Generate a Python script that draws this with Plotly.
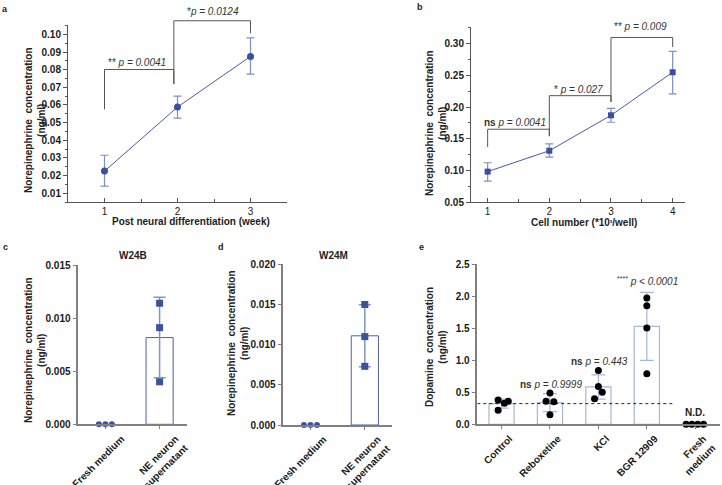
import numpy as np
import plotly.graph_objects as go

W, H = 722, 485
FONT = "Arial"

# ---------------- data ----------------
# panel a
weeks = [1, 2, 3]
a_mean = [0.0225, 0.0588, 0.0875]
a_hi = [0.0315, 0.0650, 0.0980]
a_lo = [0.0140, 0.0525, 0.0775]
a_ticks = [0.01, 0.02, 0.03, 0.04, 0.05, 0.06, 0.07, 0.08, 0.09, 0.10]

# panel b
cells = [1, 2, 3, 4]
b_mean = [0.098, 0.131, 0.187, 0.255]
b_hi = [0.112, 0.142, 0.198, 0.288]
b_lo = [0.083, 0.121, 0.176, 0.221]
b_ticks = [0.05, 0.10, 0.15, 0.20, 0.25, 0.30]

# panels c / d
cd_labels = ["Fresh medium", "NE neuron<br>supernatant"]
c_fresh = [0.0, 0.0, 0.0]
c_ne = [0.0114, 0.0091, 0.0040]
d_fresh = [0.0, 0.0, 0.0]
d_ne = [0.0150, 0.0110, 0.0073]
c_ticks = [0.000, 0.005, 0.010, 0.015]
d_ticks = [0.000, 0.005, 0.010, 0.015, 0.020]

# panel e
e_labels = ["Control", "Reboxetine", "KCl", "BGR 12909", "Fresh<br>medium"]
e_values = [
    [0.38, 0.22, 0.33, 0.36],
    [0.49, 0.36, 0.35, 0.15],
    [0.84, 0.59, 0.50, 0.40],
    [1.97, 1.85, 1.50, 0.79],
    [0.0, 0.0, 0.0, 0.0],
]
e_ticks = [0.0, 0.5, 1.0, 1.5, 2.0, 2.5]
# horizontal scatter of the dots inside each group (category units)
e_jitter = [
    [-0.07, -0.07, 0.06, 0.14],
    [0.0, -0.08, 0.08, 0.0],
    [0.0, 0.0, 0.08, -0.08],
    [0.0, 0.0, 0.0, 0.0],
    [-0.19, -0.07, 0.05, 0.17],
]
cd_jitter = [-0.12, 0.0, 0.12]

# ---------------- layout geometry (pixels) ----------------
panels = {
    "a": dict(x=(68, 287), y=(25, 202), xr=[0.5, 3.5], yr=[0.005, 0.1053]),
    "b": dict(x=(471, 685), y=(26.7, 202), xr=[0.73, 4.2], yr=[0.05, 0.327]),
    "c": dict(x=(78.3, 186.7), y=(265, 424.3), xr=[-0.5, 1.5], yr=[0, 0.015]),
    "d": dict(x=(283.3, 392), y=(264.3, 425), xr=[-0.5, 1.5], yr=[0, 0.020]),
    "e": dict(x=(477.3, 719.5), y=(264, 424.3), xr=[-0.5, 4.5], yr=[0, 2.5]),
}


def dom(p):
    (l, r), (t, b) = p["x"], p["y"]
    return [l / W, r / W], [1 - b / H, 1 - t / H]


def to_paper(key, xv, yv):
    p = panels[key]
    (l, r), (t, b) = p["x"], p["y"]
    x0, x1 = p["xr"]
    y0, y1 = p["yr"]
    xp = l + (xv - x0) / (x1 - x0) * (r - l)
    yp = b - (yv - y0) / (y1 - y0) * (b - t)
    return xp / W, 1 - yp / H


def pp(x, y):
    return x / W, 1 - y / H


fig = go.Figure()

LINE_BLUE = "#4a5aa8"
MARK_BLUE = "#3a4f9f"
ERR_BLUE = "#7d8fc4"

# panel a
fig.add_trace(go.Scatter(
    x=weeks, y=a_mean, mode="lines+markers", xaxis="x", yaxis="y",
    line=dict(color=LINE_BLUE, width=1),
    marker=dict(symbol="circle", size=7, color=MARK_BLUE),
    error_y=dict(type="data", symmetric=False,
                 array=[h - m for h, m in zip(a_hi, a_mean)],
                 arrayminus=[m - l for m, l in zip(a_mean, a_lo)],
                 color=ERR_BLUE, thickness=1.2, width=4),
    showlegend=False, cliponaxis=False))

# panel b
fig.add_trace(go.Scatter(
    x=cells, y=b_mean, mode="lines+markers", xaxis="x2", yaxis="y2",
    line=dict(color=LINE_BLUE, width=1),
    marker=dict(symbol="square", size=6, color=MARK_BLUE),
    error_y=dict(type="data", symmetric=False,
                 array=[h - m for h, m in zip(b_hi, b_mean)],
                 arrayminus=[m - l for m, l in zip(b_mean, b_lo)],
                 color=ERR_BLUE, thickness=1.2, width=4),
    showlegend=False, cliponaxis=False))

# panels c / d
CD_OUT = "#4d5fa9"
for fresh, ne, xa, ya in [(c_fresh, c_ne, "x3", "y3"), (d_fresh, d_ne, "x4", "y4")]:
    m = float(np.mean(ne))
    sd = float(np.std(ne, ddof=1))
    fig.add_trace(go.Bar(
        x=[1], y=[m], width=0.5, xaxis=xa, yaxis=ya,
        marker=dict(color="white", line=dict(color=CD_OUT, width=1)),
        error_y=dict(type="data", array=[sd], color="#7f95c8", thickness=1.5, width=6),
        showlegend=False))
    fig.add_trace(go.Scatter(
        x=[0 + j for j in cd_jitter], y=fresh, mode="markers", xaxis=xa, yaxis=ya,
        marker=dict(symbol="circle", size=6, color="#3a53a0"),
        showlegend=False, cliponaxis=False))
    fig.add_trace(go.Scatter(
        x=[1] * len(ne), y=ne, mode="markers", xaxis=xa, yaxis=ya,
        marker=dict(symbol="square", size=7, color="#3a53a0"),
        showlegend=False, cliponaxis=False))

# panel e
E_OUT = "#a6b8d6"
e_means = [float(np.mean(v)) for v in e_values]
e_sds = [float(np.std(v, ddof=1)) for v in e_values]
fig.add_trace(go.Bar(
    x=list(range(4)), y=e_means[:4], width=0.52, xaxis="x5", yaxis="y5",
    marker=dict(color="white", line=dict(color=E_OUT, width=1.2)),
    error_y=dict(type="data", array=e_sds[:4], color=E_OUT, thickness=1.2, width=7),
    showlegend=False))
fig.add_trace(go.Scatter(
    x=[-0.5, 3.55], y=[e_means[0], e_means[0]], mode="lines", xaxis="x5", yaxis="y5",
    line=dict(color="#222", width=1, dash="dot"), showlegend=False))
for i, vals in enumerate(e_values):
    fig.add_trace(go.Scatter(
        x=[i + j for j in e_jitter[i]], y=vals, mode="markers", xaxis="x5", yaxis="y5",
        marker=dict(symbol="circle", size=7, color="black"),
        showlegend=False, cliponaxis=False))

# ---------------- axes ----------------
tickfont = dict(family=FONT, size=10, color="#1a1a1a", weight=700)
layout = dict(
    template="none",
    width=W, height=H, margin=dict(l=0, r=0, t=0, b=0, autoexpand=False),
    paper_bgcolor="white", plot_bgcolor="white",
    font=dict(family=FONT, size=10, color="#222"),
)

axis_ab = dict(showline=True, linecolor="#555", linewidth=1, ticks="outside",
               ticklen=4, tickcolor="#555", tickfont=tickfont, showgrid=False,
               zeroline=False, fixedrange=True, automargin=False, mirror=False)
axis_cde = dict(showline=True, linecolor="#808080", linewidth=1.5, ticks="outside",
                ticklen=4, tickcolor="#808080", tickfont=tickfont, showgrid=False,
                zeroline=False, fixedrange=True, automargin=False, mirror=False)

keys = ["a", "b", "c", "d", "e"]
for n, k in enumerate(keys, start=1):
    xd, yd = dom(panels[k])
    xs = "xaxis" if n == 1 else f"xaxis{n}"
    ys = "yaxis" if n == 1 else f"yaxis{n}"
    xa = "x" if n == 1 else f"x{n}"
    ya = "y" if n == 1 else f"y{n}"
    base = axis_ab if k in "ab" else axis_cde
    layout[xs] = dict(base, domain=xd, range=panels[k]["xr"], anchor=ya)
    layout[ys] = dict(base, domain=yd, range=panels[k]["yr"], anchor=xa)

layout["xaxis"].update(tickvals=weeks, ticktext=[str(w) for w in weeks], ticks="inside",
                       tickfont=dict(tickfont, weight=400),
                       minor=dict(ticks="inside", ticklen=3, dtick=0.5, tick0=0, tickcolor="#555"))
layout["yaxis"].update(tickvals=a_ticks, tickformat=".2f",
                       minor=dict(ticks="outside", ticklen=2, dtick=0.005, tick0=0, tickcolor="#555"))
layout["xaxis2"].update(tickvals=cells, ticktext=[str(c) for c in cells], ticks="inside",
                        tickfont=dict(tickfont, weight=400),
                        minor=dict(ticks="inside", ticklen=3, dtick=0.5, tick0=0, tickcolor="#555"))
layout["yaxis2"].update(tickvals=b_ticks, tickformat=".2f",
                        minor=dict(ticks="outside", ticklen=2, dtick=0.025, tick0=0, tickcolor="#555"))
layout["xaxis3"].update(tickvals=[0, 1], ticktext=cd_labels, tickangle=-45, ticklen=3,
                        ticklabelshift=16)
layout["xaxis4"].update(tickvals=[0, 1], ticktext=cd_labels, tickangle=-45, ticklen=3,
                        ticklabelshift=13)
layout["yaxis3"].update(tickvals=c_ticks, tickformat=".3f")
layout["yaxis4"].update(tickvals=d_ticks, tickformat=".3f")
layout["xaxis5"].update(tickvals=list(range(5)), ticktext=e_labels, tickangle=-45, ticklen=3,
                        ticklabelshift=8)
layout["yaxis5"].update(tickvals=e_ticks, tickformat=".1f")

fig.update_layout(**layout)

# ---------------- brackets ----------------
BR = dict(color="#555", width=1)


def bracket(key, pts):
    path = ""
    for i, (xv, yv) in enumerate(pts):
        x, y = to_paper(key, xv, yv)
        path += ("M" if i == 0 else "L") + f"{x:.5f},{y:.5f} "
    fig.add_shape(type="path", path=path, xref="paper", yref="paper", line=BR)


bracket("a", [(1, 0.0576), (1, 0.0801), (1.95, 0.0801), (1.95, 0.0718)])
bracket("a", [(1.95, 0.0718), (1.95, 0.1077), (3, 0.1077), (3, 0.1006)])
bracket("b", [(1, 0.137), (1, 0.165), (2, 0.165), (2, 0.154)])
bracket("b", [(2, 0.154), (2, 0.218), (3, 0.218), (3, 0.208)])
bracket("b", [(3, 0.208), (3, 0.310), (4, 0.310), (4, 0.295)])

# ---------------- annotations ----------------
ann = []


def text(x, y, s, size=10, color="#333", angle=0, weight=None):
    f = dict(family=FONT, size=size, color=color)
    if weight:
        f["weight"] = weight
    ann.append(dict(x=x, y=y, xref="paper", yref="paper", text=s, showarrow=False,
                    xanchor="center", yanchor="middle", textangle=angle, font=f))


# panel letters
for s, (x, y) in {"a": (5, 9), "b": (420, 7), "c": (5, 247), "d": (221, 247), "e": (421, 247)}.items():
    text(*pp(x, y), s, size=9, color="#222", weight=700)

# p-values
text(*to_paper("a", 1.45, 0.0843), "** <i>p = 0.0041</i>")
text(*pp(213, 11), "*<i>p = 0.0124</i>")
text(*pp(515, 122), "<b>ns</b> <i>p = 0.0041</i>")
text(*pp(578, 89), "* <i>p = 0.027</i>")
text(*pp(640, 26), "** <i>p = 0.009</i>")
text(*pp(551, 384), "<b>ns</b> <i>p = 0.9999</i>")
text(*pp(599, 361), "<b>ns</b> <i>p = 0.443</i>")
text(*pp(647, 281), "<sup>****</sup> <i>p &lt; 0.0001</i>")
text(*pp(695, 412), "N.D.", color="#222", weight=700)

# panel titles
text(*pp(133, 255), "W24B", color="#222", weight=700)
text(*pp(333, 255), "W24M", color="#222", weight=700)

# axis titles
NE_T = "Norepinephrine  concentration<br>(ng/ml)"
text(*pp(35, 120), NE_T, angle=-90, color="#222", weight=700)
text(*pp(436, 123), NE_T, angle=-90, color="#222", weight=700)
text(*pp(35, 350), NE_T, angle=-90, color="#222", weight=700)
text(*pp(238, 343), NE_T, angle=-90, color="#222", weight=700)
text(*pp(436, 347), "Dopamine  concentration<br>(ng/ml)", angle=-90, color="#222", weight=700)
text(*pp(191, 222), "Post neural differentiation (week)", color="#222", weight=700)
text(*pp(584, 223), "Cell number (*10<span style='font-size:6px'><sup>5</sup></span>/well)",
     color="#222", weight=700)

fig.update_layout(annotations=ann)
fig.write_html("out.html", config={"displayModeBar": False},
               post_script="document.body.style.margin='0';document.body.style.padding='0';")
